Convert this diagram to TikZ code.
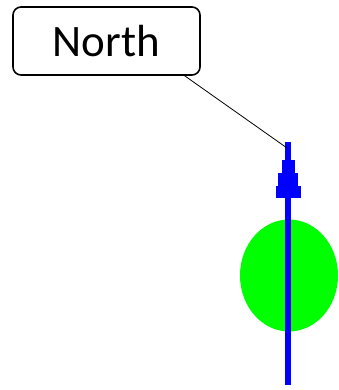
\documentclass[tikz,border=0pt]{standalone}
\usepackage{fontspec}
\setmainfont{Carlito}
\usetikzlibrary{positioning}
\definecolor{pureblue}{RGB}{0,0,255}
\definecolor{puregreen}{RGB}{0,255,0}

\begin{document}
\begin{tikzpicture}[x=1pt, y=1pt,
    callout/.style={draw, line width=1.6pt, rounded corners=8pt, minimum width=187pt, minimum height=68pt, font=\fontsize{45}{50}\selectfont},
    needle/.style={pureblue, line width=6pt}]
    \useasboundingbox (0,0) rectangle (338,390);

    % the dial and the needle
    \fill[puregreen] (289,114.5) ellipse [x radius=49, y radius=56];
    \coordinate (base) at (288,5);
    \coordinate (top) at (288,248);
    \draw[needle] (base) -- (top);
    \fill[pureblue] (276,192.3) rectangle (301,204.3);
    \fill[pureblue] (278.3,203.3) rectangle (298.3,217);
    \fill[pureblue] (281.7,216) rectangle (295,230);

    % label
    \node[callout] (north) at (106.5,349) {North};
    \coordinate (tip) at (287,242);
    \draw[line width=0.8pt] (north.-24) -- (tip);
\end{tikzpicture}
\end{document}
